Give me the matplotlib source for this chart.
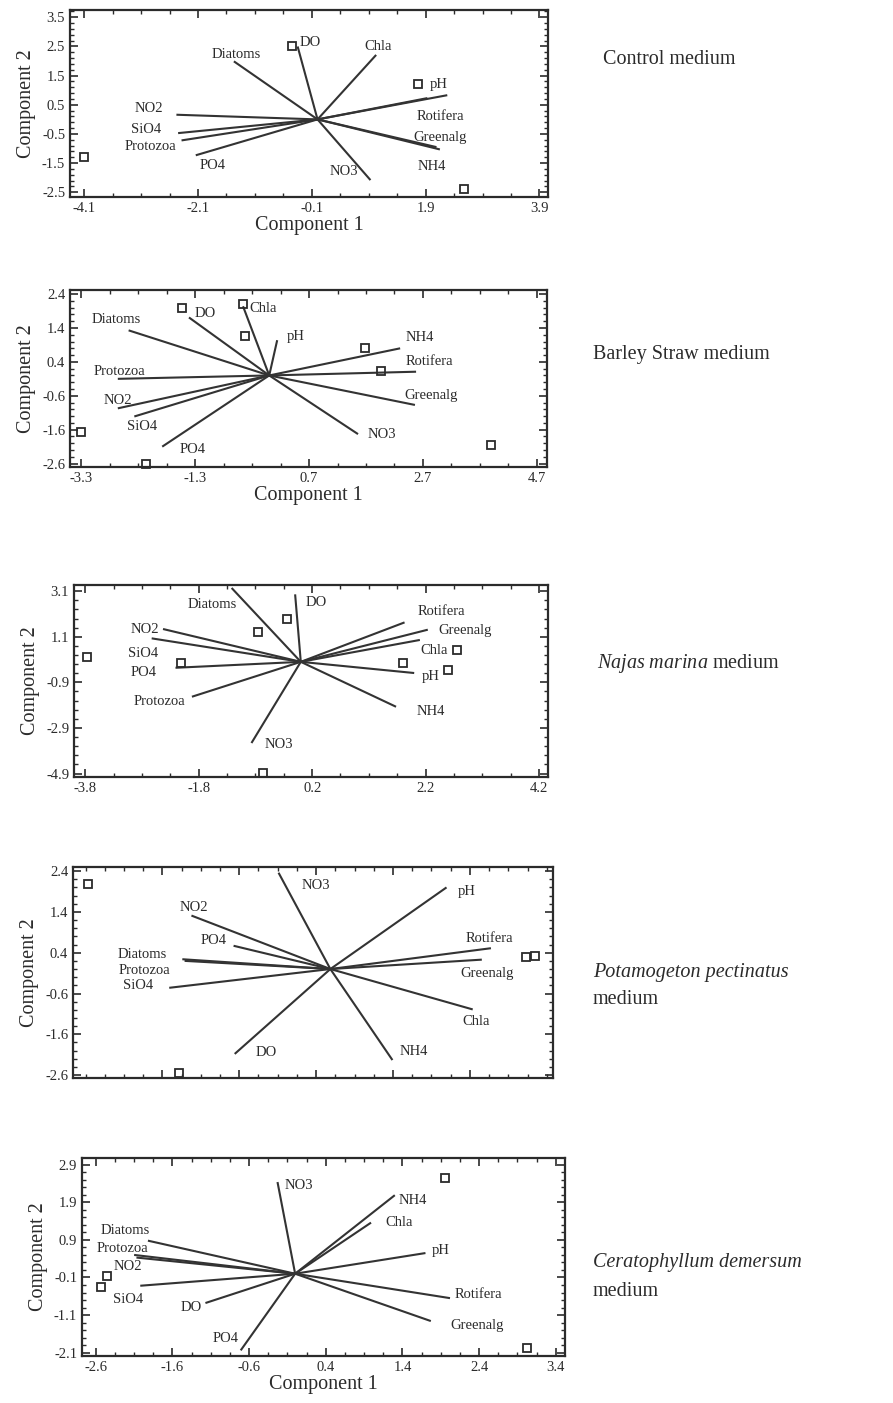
import numpy as np
import matplotlib
matplotlib.use('Agg')
from matplotlib import pyplot as plt
from matplotlib.ticker import AutoMinorLocator, FixedLocator

plt.rcParams['font.family'] = ['Liberation Serif', 'DejaVu Serif']
plt.rcParams['mathtext.fontset'] = 'custom'
plt.rcParams['mathtext.rm'] = 'Liberation Serif'
plt.rcParams['mathtext.it'] = 'Liberation Serif:italic'

INK = '#2b2b2b'

variables = ['Diatoms', 'DO', 'Chla', 'pH', 'Rotifera', 'Greenalg',
             'NH4', 'NO3', 'NO2', 'SiO4', 'Protozoa', 'PO4']

# Control medium
ctrl_pc1 = [-1.47, -0.35, 1.03, 2.28, 1.93, 2.09, 2.15, 0.93, -2.48, -2.45, -2.39, -2.14]
ctrl_pc2 = [1.99, 2.50, 2.21, 0.83, 0.73, -0.95, -1.03, -2.08, 0.16, -0.47, -0.72, -1.23]
ctrl_lab_x = [-1.43, -0.13, 1.07, 2.12, 2.15, 2.15, 2.00, 0.47, -2.96, -3.02, -2.93, -1.85]
ctrl_lab_y = [2.24, 2.62, 2.50, 1.20, 0.11, -0.61, -1.63, -1.80, 0.39, -0.36, -0.93, -1.57]
ctrl_samp_x = [-4.10, -0.45, 1.77, 2.57]
ctrl_samp_y = [-1.29, 2.53, 1.20, -2.37]

# Barley straw medium
barley_pc1 = [-2.47, -1.41, -0.46, 0.14, 2.58, 2.56, 2.30, 1.56, -2.66, -2.37, -2.66, -1.88]
barley_pc2 = [1.33, 1.71, 2.04, 1.04, 0.11, -0.87, 0.80, -1.73, -0.97, -1.21, -0.10, -2.10]
barley_lab_x = [-2.69, -1.12, -0.10, 0.46, 2.81, 2.84, 2.65, 1.98, -2.66, -2.24, -2.63, -1.35]
barley_lab_y = [1.65, 1.82, 1.96, 1.14, 0.40, -0.58, 1.13, -1.73, -0.75, -1.51, 0.12, -2.17]
barley_samp_x = [-3.30, -2.16, -1.54, -0.46, -0.43, 1.68, 1.97, 3.90]
barley_samp_y = [-1.66, -2.60, 2.00, 2.11, 1.16, 0.80, 0.14, -2.04]

# Najas marina medium
najas_pc1 = [-1.22, -0.10, 2.10, 2.00, 1.83, 2.24, 1.68, -0.87, -2.43, -2.63, -1.92, -2.21]
najas_pc2 = [3.24, 2.96, 0.96, -0.49, 1.73, 1.41, -1.97, -3.56, 1.44, 1.03, -1.53, -0.26]
najas_lab_x = [-1.57, 0.28, 2.35, 2.29, 2.48, 2.89, 2.29, -0.39, -2.75, -2.78, -2.49, -2.78]
najas_lab_y = [2.52, 2.59, 0.50, -0.66, 2.19, 1.36, -2.18, -3.63, 1.44, 0.35, -1.75, -0.45]
najas_samp_x = [-3.77, -2.11, -0.76, -0.25, 1.81, 2.75, 2.60, -0.66]
najas_samp_y = [0.23, -0.05, 1.29, 1.90, -0.05, 0.54, -0.37, -4.86]

# Potamogeton pectinatus medium
pota_pc1 = [-2.60, -1.68, 2.50, 2.04, 2.82, 2.66, 1.09, -0.91, -2.44, -2.83, -2.56, -1.70]
pota_pc2 = [0.24, -2.08, -0.99, 2.00, 0.51, 0.23, -2.23, 2.36, 1.31, -0.46, 0.20, 0.57]
pota_lab_x = [-3.30, -1.12, 2.56, 2.40, 2.79, 2.76, 1.47, -0.26, -2.40, -3.37, -3.27, -2.05]
pota_lab_y = [0.35, -2.05, -1.28, 1.91, 0.75, -0.10, -2.02, 2.04, 1.51, -0.41, -0.03, 0.70]
pota_samp_x = [-4.26, -2.66, 3.43, 3.59]
pota_samp_y = [2.09, -2.55, 0.30, 0.33]

# Ceratophyllum demersum medium
cera_pc1 = [-1.92, -1.17, 0.99, 1.70, 2.02, 1.77, 1.30, -0.23, -2.07, -2.02, -2.10, -0.71]
cera_pc2 = [0.88, -0.78, 1.36, 0.55, -0.65, -1.26, 2.09, 2.44, 0.43, -0.32, 0.50, -2.04]
cera_lab_x = [-2.22, -1.36, 1.36, 1.90, 2.39, 2.37, 1.53, 0.05, -2.18, -2.18, -2.25, -0.91]
cera_lab_y = [1.16, -0.91, 1.36, 0.63, -0.54, -1.39, 1.96, 2.35, 0.19, -0.69, 0.66, -1.73]
cera_samp_x = [1.96, -2.45, -2.53, 3.03]
cera_samp_y = [2.55, -0.07, -0.36, -1.99]

# tick values
ctrl_xt = [-4.1, -2.1, -0.1, 1.9, 3.9]
ctrl_yt = [-2.5, -1.5, -0.5, 0.5, 1.5, 2.5, 3.5]
barley_xt = [-3.3, -1.3, 0.7, 2.7, 4.7]
barley_yt = [-2.6, -1.6, -0.6, 0.4, 1.4, 2.4]
najas_xt = [-3.8, -1.8, 0.2, 2.2, 4.2]
najas_yt = [-4.9, -2.9, -0.9, 1.1, 3.1]
pota_xt = [-2.95, -1.6, -0.25, 1.1, 2.45]
pota_yt = [-2.6, -1.6, -0.6, 0.4, 1.4, 2.4]
cera_xt = [-2.6, -1.6, -0.6, 0.4, 1.4, 2.4, 3.4]
cera_yt = [-2.1, -1.1, -0.1, 0.9, 1.9, 2.9]

panels = [
    dict(pc1=ctrl_pc1, pc2=ctrl_pc2, lx=ctrl_lab_x, ly=ctrl_lab_y,
         sx=ctrl_samp_x, sy=ctrl_samp_y, xt=ctrl_xt, yt=ctrl_yt,
         rect=(70, 10, 548, 197), xlim=(-4.35, 4.05), ylim=(-2.66, 3.75),
         xlabels=True, xtitle=True),
    dict(pc1=barley_pc1, pc2=barley_pc2, lx=barley_lab_x, ly=barley_lab_y,
         sx=barley_samp_x, sy=barley_samp_y, xt=barley_xt, yt=barley_yt,
         rect=(70, 290, 547, 467), xlim=(-3.5, 4.88), ylim=(-2.7, 2.52),
         xlabels=True, xtitle=True),
    dict(pc1=najas_pc1, pc2=najas_pc2, lx=najas_lab_x, ly=najas_lab_y,
         sx=najas_samp_x, sy=najas_samp_y, xt=najas_xt, yt=najas_yt,
         rect=(74, 585, 548, 777), xlim=(-4.0, 4.36), ylim=(-5.05, 3.37),
         xlabels=True, xtitle=False),
    dict(pc1=pota_pc1, pc2=pota_pc2, lx=pota_lab_x, ly=pota_lab_y,
         sx=pota_samp_x, sy=pota_samp_y, xt=pota_xt, yt=pota_yt,
         rect=(73, 867, 553, 1078), xlim=(-4.52, 3.91), ylim=(-2.67, 2.5),
         xlabels=False, xtitle=False),
    dict(pc1=cera_pc1, pc2=cera_pc2, lx=cera_lab_x, ly=cera_lab_y,
         sx=cera_samp_x, sy=cera_samp_y, xt=cera_xt, yt=cera_yt,
         rect=(82, 1158, 565, 1356), xlim=(-2.78, 3.52), ylim=(-2.19, 3.08),
         xlabels=True, xtitle=True),
]

W, H = 893, 1403
fig = plt.figure(figsize=(W / 100, H / 100), dpi=100)
fig.patch.set_facecolor('white')

for p in panels:
    x0, y0, x1, y1 = p['rect']
    ax = fig.add_axes([x0 / W, 1 - y1 / H, (x1 - x0) / W, (y1 - y0) / H])
    for i, name in enumerate(variables):
        ax.plot([0, p['pc1'][i]], [0, p['pc2'][i]], color='#333333', lw=1.5,
                solid_capstyle='butt')
        ax.text(p['lx'][i], p['ly'][i], name, fontsize=10.5, color=INK,
                ha='center', va='center')
    ax.plot(p['sx'], p['sy'], 's', ms=6, mfc='none', mec=INK, mew=1.3,
            clip_on=False)
    ax.set_xlim(*p['xlim'])
    ax.set_ylim(*p['ylim'])
    ax.xaxis.set_major_locator(FixedLocator(p['xt']))
    ax.yaxis.set_major_locator(FixedLocator(p['yt']))
    ax.xaxis.set_minor_locator(AutoMinorLocator(4))
    ax.yaxis.set_minor_locator(AutoMinorLocator(5))
    ax.tick_params(which='both', direction='in', top=True, right=True,
                   color=INK, labelcolor=INK, labelsize=10.5)
    ax.tick_params(which='major', length=6, width=1.2)
    ax.tick_params(which='minor', length=3, width=1.0)
    ax.set_yticklabels([f'{v:.1f}' for v in p['yt']])
    if p['xlabels']:
        ax.set_xticklabels([f'{v:.1f}' for v in p['xt']])
    else:
        ax.set_xticklabels([])
    for s in ax.spines.values():
        s.set_linewidth(1.6)
        s.set_color(INK)
    ax.set_ylabel('Component 2', fontsize=14.5, color=INK, labelpad=4)
    if p['xtitle']:
        ax.set_xlabel('Component 1', fontsize=14.5, color=INK, labelpad=1)

fig.text(603 / W, 1 - 60 / H, 'Control medium', fontsize=14.5, color=INK, va='center')
fig.text(593 / W, 1 - 355 / H, 'Barley Straw medium', fontsize=14.5, color=INK, va='center')
fig.text(597 / W, 1 - 663 / H, r'$\mathit{Najas\ marina}$ medium', fontsize=14.5,
         color=INK, va='center')
fig.text(593 / W, 1 - 972 / H, 'Potamogeton pectinatus', fontsize=14.5, color=INK,
         va='center', style='italic')
fig.text(593 / W, 1 - 1000 / H, 'medium', fontsize=14.5, color=INK, va='center')
fig.text(593 / W, 1 - 1262 / H, 'Ceratophyllum demersum', fontsize=14.5, color=INK,
         va='center', style='italic')
fig.text(593 / W, 1 - 1292 / H, 'medium', fontsize=14.5, color=INK, va='center')

fig.savefig('out.png', dpi=100, facecolor='white')
